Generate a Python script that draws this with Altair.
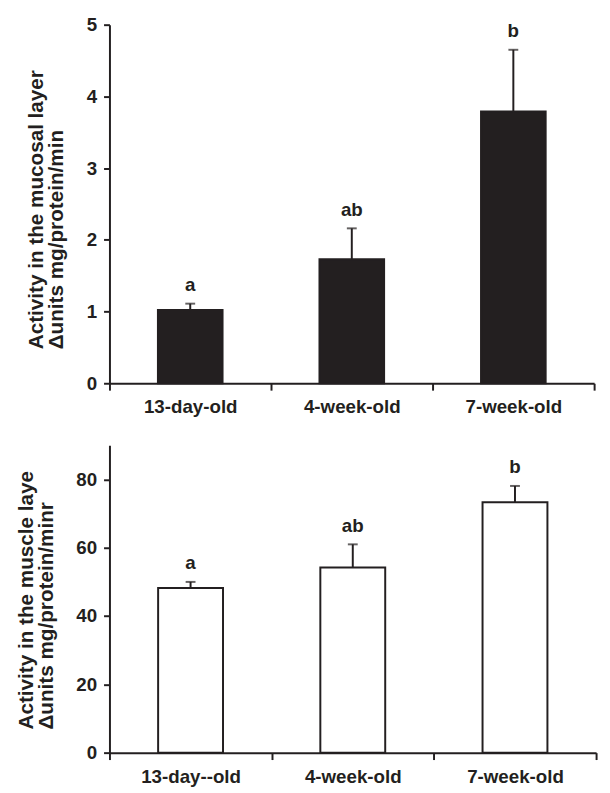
import altair as alt
import pandas as pd

# ---- data ----
top_groups = ["13-day-old", "4-week-old", "7-week-old"]
top_means = [1.02, 1.73, 3.79]
top_errors = [0.09, 0.43, 0.86]
top_letters = ["a", "ab", "b"]

bottom_groups = ["13-day--old", "4-week-old", "7-week-old"]
bottom_means = [48.2, 54.2, 73.3]
bottom_errors = [1.8, 6.8, 4.8]
bottom_letters = ["a", "ab", "b"]

top_ticks = [0, 1, 2, 3, 4, 5]
bottom_ticks = [0, 20, 40, 60, 80]

top_title = ["Activity in the mucosal layer", "\u0394units mg/protein/min"]
bottom_title = ["Activity in the muscle laye", "\u0394units mg/protein/minr"]

DARK = "#231f20"
FONT = "Liberation Sans"


def panel(groups, means, errors, letters, fill, ymax, ticks, title, w, h, title_y):
    df = pd.DataFrame({
        "group": groups,
        "mean": means,
        "upper": [m + e for m, e in zip(means, errors)],
        "letter": letters,
    })
    x = alt.X(
        "group:N",
        sort=groups,
        scale=alt.Scale(paddingInner=0, paddingOuter=0),
        axis=alt.Axis(
            title=None, labelAngle=0, labelAlign="center",
            labelBaseline="top", labelFont=FONT, labelFontSize=19,
            labelFontWeight="bold", labelColor=DARK, labelPadding=8,
            domain=True, domainColor=DARK, domainWidth=2,
            ticks=True, tickColor=DARK, tickWidth=2, tickSize=7,
            tickBand="extent", grid=False,
        ),
    )
    y = alt.Y(
        "mean:Q",
        scale=alt.Scale(domain=[0, ymax], nice=False, zero=True),
        axis=alt.Axis(
            values=ticks, format="d", title=title, titleFont=FONT,
            titleFontSize=21, titleFontWeight="bold", titleColor=DARK,
            titleLineHeight=20, titleAlign="left", titleAnchor="start",
            titleY=title_y, titlePadding=20,
            labelFont=FONT, labelFontSize=19, labelFontWeight="bold",
            labelColor=DARK, labelPadding=7, domainColor=DARK, domainWidth=2,
            ticks=True, tickColor=DARK, tickWidth=2, tickSize=6, grid=False,
        ),
    )
    xc = alt.X("group:N", sort=groups)
    base = alt.Chart(df)
    bars = base.mark_bar(
        fill=fill, stroke=DARK, strokeWidth=2,
        width=alt.RelativeBandSize(0.4)).encode(x=x, y=y)
    rule = base.mark_rule(color=DARK, strokeWidth=2).encode(
        x=xc, y="mean:Q", y2="upper:Q")
    cap = base.mark_tick(color=DARK, thickness=2, size=10).encode(
        x=xc, y="upper:Q")
    text = base.mark_text(
        dy=-19, font=FONT, fontSize=19, fontWeight="bold", color=DARK,
        baseline="middle").encode(x=xc, y="upper:Q", text="letter:N")
    return alt.layer(rule, bars, cap, text).properties(width=w, height=h)


top = panel(top_groups, top_means, top_errors, top_letters, DARK,
            5, top_ticks, top_title, 492, 364, 329)
bottom = panel(bottom_groups, bottom_means, bottom_errors, bottom_letters,
               "white", 90, bottom_ticks, bottom_title, 494, 312, 288)

chart = alt.vconcat(top, bottom, spacing=29).properties(
    padding={"left": 7, "top": 2, "right": 5, "bottom": 0}
).configure_view(stroke=None)

chart.save("out.html", embed_options={"renderer": "svg", "actions": False})
